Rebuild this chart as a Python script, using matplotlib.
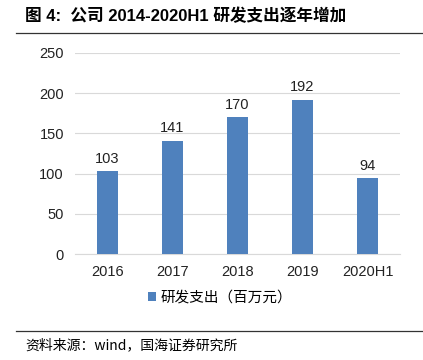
import matplotlib
matplotlib.use("Agg")
import matplotlib.pyplot as plt
from matplotlib.lines import Line2D

plt.rcParams['font.family'] = ['Noto Sans CJK SC', 'DejaVu Sans']

categories = ["2016", "2017", "2018", "2019", "2020H1"]
values = [103, 141, 170, 192, 94]
yticks = [0, 50, 100, 150, 200, 250]
series_name = "研发支出（百万元）"
title = "图 4:  公司 2014-2020H1 研发支出逐年增加"
source = "资料来源：wind，国海证券研究所"

W, H = 423, 360
fig = plt.figure(figsize=(W/100, H/100), dpi=100)
ax = fig.add_axes([75/W, 1-254/H, 325/W, (254-53)/H])

bar_color = "#4f81bd"
x = range(len(categories))
bars = ax.bar(x, values, width=0.31, color=bar_color, zorder=3, label=series_name)
for xi, v in zip(x, values):
    ax.text(xi, v + 7, str(v), ha='center', va='bottom', fontsize=10.5,
            family=['Liberation Sans', 'DejaVu Sans'], color='#222222')

ax.set_xlim(-0.5, len(categories) - 0.5)
ax.set_ylim(0, 250)
ax.set_yticks(yticks)
ax.set_xticks(list(x))
ax.set_xticklabels(categories)
for lab in ax.get_xticklabels() + ax.get_yticklabels():
    lab.set_family(['Liberation Sans', 'DejaVu Sans'])
    lab.set_fontsize(10.5)
    lab.set_color('#222222')
ax.tick_params(length=0, pad=8)
ax.grid(axis='y', color='#d9d9d9', linewidth=0.8, zorder=0)
for s in ['top', 'right', 'left']:
    ax.spines[s].set_visible(False)
ax.spines['bottom'].set_color('#d9d9d9')

leg = fig.legend(handles=[bars], labels=[series_name], loc='center',
                 bbox_to_anchor=(0.52, 1-298/H), frameon=False, fontsize=10.5,
                 handlelength=0.6, handleheight=0.6, handletextpad=0.3)

fig.text(25/W, 1-16/H, title, fontsize=12, fontweight='bold', va='center', ha='left',
         family=['Liberation Sans', 'Noto Sans CJK SC', 'DejaVu Sans'])
fig.add_artist(Line2D([16/W, 1], [1-33/H, 1-33/H], color='#333333', linewidth=0.9))
fig.add_artist(Line2D([16/W, 1], [1-331/H, 1-331/H], color='#333333', linewidth=0.9))
fig.text(25/W, 1-345/H, source, fontsize=10, va='center', ha='left',
         family=['Noto Sans CJK SC', 'DejaVu Sans'])

fig.savefig("out.png", dpi=100)
